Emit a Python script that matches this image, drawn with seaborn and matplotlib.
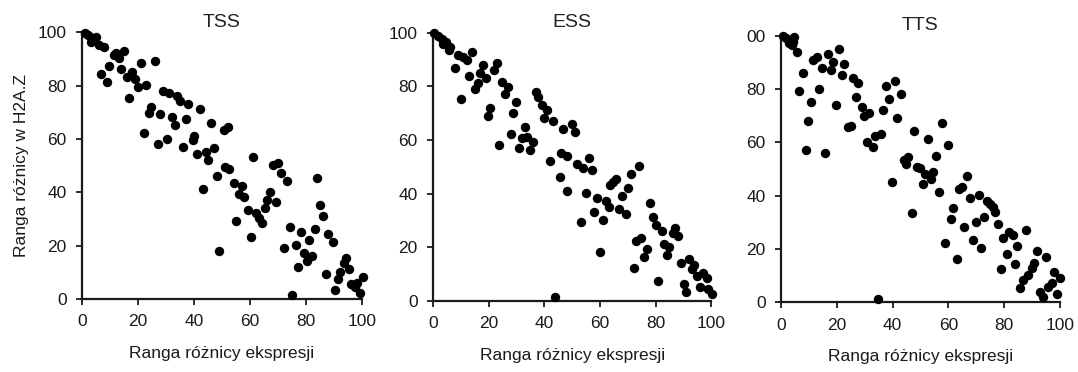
import numpy as np
import pandas as pd
import matplotlib
matplotlib.use('Agg')
import matplotlib.pyplot as plt
import seaborn as sns

# TSS panel
tss_x = [1.1, 2.3, 3.1, 4.1, 5.0, 6.2, 7.7, 11.3, 12.2, 13.1, 14.9, 6.7, 8.9, 9.8, 13.9, 16.1, 17.9, 19.1, 19.9, 20.9,
         23.0, 16.9, 26.0, 29.0, 31.0, 33.8, 35.0, 37.9, 42.2, 24.5, 23.8, 27.8, 32.3, 33.1, 37.1, 22.1, 27.1, 30.2, 36.2, 39.5,
         40.0, 41.0, 44.2, 45.1, 47.2, 46.0, 50.6, 52.1, 51.1, 52.6, 61.0, 68.2, 70.0, 71.2, 73.3, 54.2, 57.1, 56.2, 58.0, 67.0,
         66.2, 69.2, 65.2, 59.2, 62.2, 63.1, 64.3, 55.0, 60.2, 84.1, 85.0, 86.2, 74.2, 78.2, 83.2, 81.2, 88.0, 89.5, 72.1, 76.3,
         79.2, 82.3, 80.2, 77.2, 94.2, 93.4, 95.4, 92.2, 91.3, 87.2, 90.2, 96.2, 97.4, 98.2, 100.4, 99.2, 75.1, 49.0, 43.1, 48.1]
tss_y = [99.8, 98.9, 96.5, 97.7, 98.3, 95.2, 94.4, 91.5, 92.1, 90.2, 93.1, 84.4, 81.2, 87.4, 86.1, 83.4, 85.2, 82.4, 79.4, 88.4,
         80.2, 75.3, 89.4, 78.1, 77.4, 76.1, 74.3, 73.1, 71.1, 71.9, 69.9, 69.2, 68.2, 65.2, 67.4, 62.1, 58.1, 60.1, 57.1, 59.6,
         61.2, 54.4, 55.3, 52.1, 56.5, 66.1, 63.4, 64.4, 49.6, 48.6, 53.4, 50.2, 51.1, 47.4, 44.2, 43.4, 42.4, 39.4, 38.1, 40.2,
         37.1, 36.3, 34.2, 33.4, 32.4, 30.5, 28.4, 29.2, 23.1, 45.3, 35.2, 31.2, 27.1, 25.2, 26.1, 22.1, 24.3, 21.3, 19.2, 20.2,
         17.4, 16.1, 14.2, 12.1, 15.3, 13.4, 11.2, 10.2, 7.4, 9.3, 3.4, 5.5, 4.6, 6.1, 8.4, 2.1, 1.4, 18.1, 41.2, 46.1]

# ESS panel
ess_x = [0.4, 1.9, 3.1, 4.7, 3.7, 6.1, 5.9, 9.1, 10.9, 12.1, 13.9, 7.9, 9.9, 13.0, 16.0, 15.1, 16.9, 18.1, 19.0, 21.9,
         23.1, 20.5, 19.9, 24.7, 26.8, 25.9, 29.8, 28.8, 23.8, 27.9, 33.0, 31.8, 33.9, 35.8, 30.9, 34.8, 36.9, 37.8, 39.0, 40.8,
         39.9, 43.0, 46.8, 45.9, 48.2, 42.0, 49.8, 51.0, 51.8, 54.0, 56.1, 57.0, 74.0, 45.6, 48.0, 54.9, 53.0, 57.9, 59.0, 60.9,
         62.1, 63.2, 60.0, 63.6, 64.5, 65.7, 68.0, 66.9, 69.2, 70.1, 71.0, 72.2, 72.9, 74.7, 76.9, 75.8, 77.9, 78.9, 80.1, 82.1,
         80.9, 82.9, 84.8, 83.9, 86.9, 86.1, 88.1, 88.9, 92.0, 93.8, 92.9, 94.9, 97.1, 98.3, 95.9, 90.2, 90.8, 98.9, 100.1, 43.8]
ess_y = [100.0, 98.8, 97.5, 96.6, 95.8, 94.8, 93.5, 91.7, 91.0, 89.8, 92.9, 86.9, 75.1, 83.8, 81.1, 78.9, 85.1, 87.9, 83.0, 86.1,
         88.8, 71.8, 69.0, 81.7, 79.9, 77.1, 74.0, 69.9, 58.1, 62.1, 64.9, 60.6, 61.2, 59.3, 57.1, 56.2, 78.0, 76.1, 73.0, 71.2,
         68.1, 67.1, 64.0, 55.0, 54.0, 52.1, 65.9, 62.8, 51.0, 49.4, 53.1, 48.8, 50.3, 46.3, 41.0, 40.1, 29.3, 33.2, 38.2, 30.1,
         37.2, 35.1, 18.3, 43.2, 44.4, 45.3, 39.2, 34.1, 32.2, 41.9, 47.2, 12.3, 22.4, 23.3, 19.2, 16.2, 36.3, 31.1, 28.2, 26.0,
         7.4, 21.2, 20.1, 17.1, 27.2, 25.1, 24.1, 14.2, 15.4, 13.3, 11.7, 9.2, 10.4, 8.4, 5.2, 6.2, 3.4, 4.3, 2.5, 1.5]

# TTS panel
tts_x = [0.6, 1.8, 3.0, 3.8, 4.8, 4.4, 5.8, 7.8, 6.6, 10.8, 9.8, 8.8, 11.6, 12.8, 14.8, 13.7, 16.7, 18.7, 17.8, 20.8,
         22.7, 21.8, 15.8, 19.7, 25.7, 27.7, 26.8, 28.9, 29.9, 31.6, 24.1, 25.0, 30.7, 32.9, 33.7, 35.7, 36.7, 37.6, 40.9, 38.7,
         41.7, 42.9, 47.7, 44.1, 45.6, 44.8, 48.6, 57.8, 52.8, 59.7, 55.6, 49.8, 51.6, 54.6, 53.7, 50.8, 56.7, 46.8, 66.8, 63.9,
         64.8, 61.8, 60.8, 67.7, 71.0, 73.9, 74.9, 75.9, 76.7, 72.8, 69.8, 65.7, 58.8, 63.0, 68.7, 71.7, 77.9, 81.7, 83.0, 79.7,
         87.8, 84.7, 80.9, 78.7, 83.9, 91.6, 94.9, 90.7, 89.9, 88.7, 86.8, 85.7, 97.8, 100.0, 97.0, 95.8, 98.8, 92.8, 93.8, 39.7,
         34.9]
tts_y = [100.0, 99.0, 97.3, 96.5, 99.4, 97.7, 94.0, 86.1, 79.2, 75.2, 68.1, 57.1, 90.9, 92.1, 88.0, 80.0, 93.1, 90.0, 87.1, 95.0,
         89.2, 85.2, 56.1, 74.0, 84.0, 82.1, 77.1, 73.1, 70.0, 71.1, 65.6, 66.2, 60.2, 58.1, 62.4, 63.0, 72.1, 81.1, 83.1, 76.1,
         69.0, 78.1, 64.2, 53.4, 54.4, 51.9, 50.8, 67.1, 61.2, 59.0, 55.0, 50.2, 48.1, 49.0, 46.1, 44.2, 41.2, 33.4, 47.4, 42.4,
         43.3, 35.2, 31.1, 39.0, 40.2, 38.1, 36.9, 35.6, 34.0, 32.1, 30.2, 28.1, 22.1, 16.2, 23.4, 20.2, 29.2, 26.5, 25.2, 24.2,
         27.1, 21.2, 18.1, 12.4, 14.2, 19.3, 17.1, 14.8, 12.7, 10.2, 8.4, 5.2, 11.2, 9.2, 7.3, 5.9, 3.1, 4.0, 2.1, 45.2,
         1.2]

titles = ['TSS', 'ESS', 'TTS']
xlabel = 'Ranga różnicy ekspresji'
ylabel = 'Ranga różnicy w H2A.Z'
ticks = [0, 20, 40, 60, 80, 100]
tts_yticklabels = ['0', '20', '40', '60', '80', '00']

sns.set_style('ticks')
plt.rcParams['font.family'] = ['Liberation Sans', 'DejaVu Sans']

fig = plt.figure(figsize=(10.78, 3.72), dpi=100)
boxes = [[82/1078, 73/372, 280/1078, 266.7/372],
         [433/1078, 71.3/372, 278.5/1078, 268/372],
         [781/1078, 69.7/372, 279/1078, 266.6/372]]
data = [(tss_x, tss_y), (ess_x, ess_y), (tts_x, tts_y)]

for i, (xs, ys) in enumerate(data):
    ax = fig.add_axes(boxes[i])
    df = pd.DataFrame({'x': xs, 'y': ys})
    sns.scatterplot(data=df, x='x', y='y', ax=ax, color='black', s=46,
                    edgecolor='black', linewidth=0, clip_on=False, zorder=3)
    ax.set_xlim(0, 100)
    ax.set_ylim(0, 100)
    ax.set_xticks(ticks)
    ax.set_yticks(ticks)
    if i == 2:
        ax.set_yticklabels(tts_yticklabels)
    sns.despine(ax=ax)
    for s in ['left', 'bottom']:
        ax.spines[s].set_linewidth(1.6)
        ax.spines[s].set_color('#1a1a1a')
    ax.tick_params(axis='both', direction='out', length=4, width=1.3, color='#1a1a1a',
                   labelsize=12.5, labelcolor='#1a1a1a', pad=7)
    ax.set_xlabel(xlabel, fontsize=12.5, color='#1a1a1a', labelpad=12)
    if i == 0:
        ax.set_ylabel(ylabel, fontsize=12.5, color='#1a1a1a', labelpad=6)
    else:
        ax.set_ylabel('')
    ax.set_title(titles[i], fontsize=14, color='#222222', pad=4)

plt.savefig('out.png', dpi=100)
